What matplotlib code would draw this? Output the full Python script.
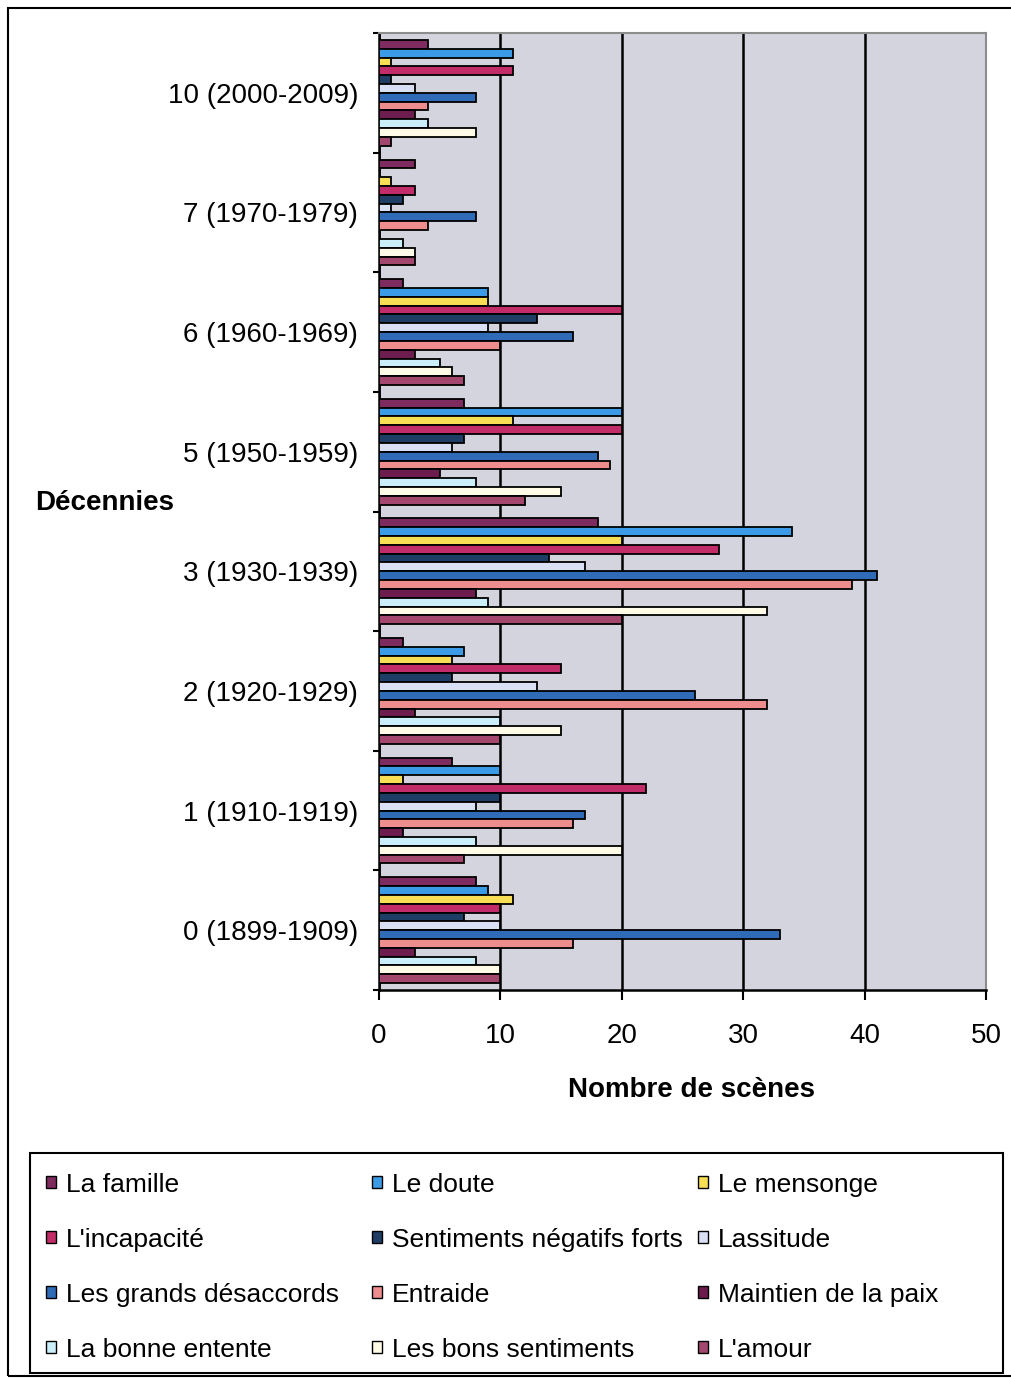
import numpy as np
import matplotlib
matplotlib.use("Agg")
import matplotlib.pyplot as plt
from matplotlib.patches import Rectangle

plt.rcParams['font.family'] = ['Liberation Sans', 'DejaVu Sans']

# Decades (bottom to top on the chart)
decades = ["0 (1899-1909)", "1 (1910-1919)", "2 (1920-1929)", "3 (1930-1939)",
           "5 (1950-1959)", "6 (1960-1969)", "7 (1970-1979)", "10 (2000-2009)"]

series_names = ["La famille", "Le doute", "Le mensonge",
                "L'incapacité", "Sentiments négatifs forts", "Lassitude",
                "Les grands désaccords", "Entraide", "Maintien de la paix",
                "La bonne entente", "Les bons sentiments", "L'amour"]

# Number of scenes per theme, one value per decade (same order as `decades`)
la_famille = [8, 6, 2, 18, 7, 2, 3, 4]
le_doute = [9, 10, 7, 34, 20, 9, 0, 11]
le_mensonge = [11, 2, 6, 20, 11, 9, 1, 1]
incapacite = [10, 22, 15, 28, 20, 20, 3, 11]
sentiments_negatifs = [7, 10, 6, 14, 7, 13, 2, 1]
lassitude = [10, 8, 13, 17, 6, 9, 1, 3]
grands_desaccords = [33, 17, 26, 41, 18, 16, 8, 8]
entraide = [16, 16, 32, 39, 19, 10, 4, 4]
maintien_paix = [3, 2, 3, 8, 5, 3, 0, 3]
bonne_entente = [8, 8, 10, 9, 8, 5, 2, 4]
bons_sentiments = [10, 20, 15, 32, 15, 6, 3, 8]
amour = [10, 7, 10, 20, 12, 7, 3, 1]

series_values = [la_famille, le_doute, le_mensonge, incapacite,
                 sentiments_negatifs, lassitude, grands_desaccords, entraide,
                 maintien_paix, bonne_entente, bons_sentiments, amour]

series_colors = ["#7e2b5f", "#3b9be6", "#f7de55", "#c22c68",
                 "#1f3e66", "#dae0f3", "#2f6bb6", "#ee8d8d",
                 "#6c1d4d", "#caeffa", "#fffbe6", "#a4476f"]

W, H = 1012, 1378
fig = plt.figure(figsize=(W / 100, H / 100), dpi=100)


def fx(px):
    return px / W


def fy(py):
    return 1 - py / H


ax = fig.add_axes([fx(379), fy(990), fx(986) - fx(379), fy(33) - fy(990)])
ax.set_facecolor("#d4d4de")

n = len(series_names)
group = 0.885
h = group / n
y = np.arange(len(decades))
for i, (vals, col) in enumerate(zip(series_values, series_colors)):
    off = (n / 2 - 0.5 - i) * h
    ax.barh(y + off, vals, height=h, color=col, edgecolor="black",
            linewidth=1.3, zorder=3)

ax.set_xlim(0, 50)
ax.set_ylim(-0.5, len(decades) - 0.5)

ax.set_axisbelow(True)
ax.grid(axis="x", color="black", linewidth=1.8)
ax.grid(axis="y", visible=False)

for side in ("left", "bottom"):
    ax.spines[side].set_color("black")
    ax.spines[side].set_linewidth(1.8)
for side in ("top", "right"):
    ax.spines[side].set_color("#8c8c8c")
    ax.spines[side].set_linewidth(1.5)

ax.set_xticks(np.arange(0, 51, 10))
ax.tick_params(axis="x", direction="out", length=7.5, width=1.5,
               labelsize=20, pad=16)
ax.set_yticks(y)
ax.set_yticklabels(decades)
ax.tick_params(axis="y", which="major", length=0, labelsize=20, pad=15)
ax.set_yticks(np.arange(-0.5, len(decades)), minor=True)
ax.tick_params(axis="y", which="minor", direction="out", length=4.5, width=1.5)

fig.text(fx(35), fy(503), "Décennies", ha="left", va="center",
         fontsize=20, fontweight="bold")
fig.text(fx(692), fy(1090), "Nombre de scènes", ha="center", va="center",
         fontsize=20, fontweight="bold")

# Outer chart frame (right edge runs past the canvas)
fig.patches.append(Rectangle((fx(8), fy(1376)), fx(1100) - fx(8),
                             fy(8) - fy(1376), transform=fig.transFigure,
                             fill=False, edgecolor="black", linewidth=1.5))

# Legend box, three columns filled row by row
fig.patches.append(Rectangle((fx(30), fy(1373)), fx(1003) - fx(30),
                             fy(1153) - fy(1373), transform=fig.transFigure,
                             fill=False, edgecolor="black", linewidth=1.5))
text_x = [66, 392, 718]
row_y = [1185, 1240, 1295, 1350]
mw, mh = 10, 12
for k, (name, col) in enumerate(zip(series_names, series_colors)):
    r, c = divmod(k, 3)
    tx, ty = text_x[c], row_y[r]
    mx = tx - 20
    fig.patches.append(Rectangle((fx(mx), fy(ty + mh / 2 - 3)), mw / W,
                                 mh / H, transform=fig.transFigure,
                                 facecolor=col, edgecolor="black",
                                 linewidth=1.0))
    fig.text(fx(tx), fy(ty), name, ha="left", va="center", fontsize=19)

fig.savefig("out.png", dpi=100)
